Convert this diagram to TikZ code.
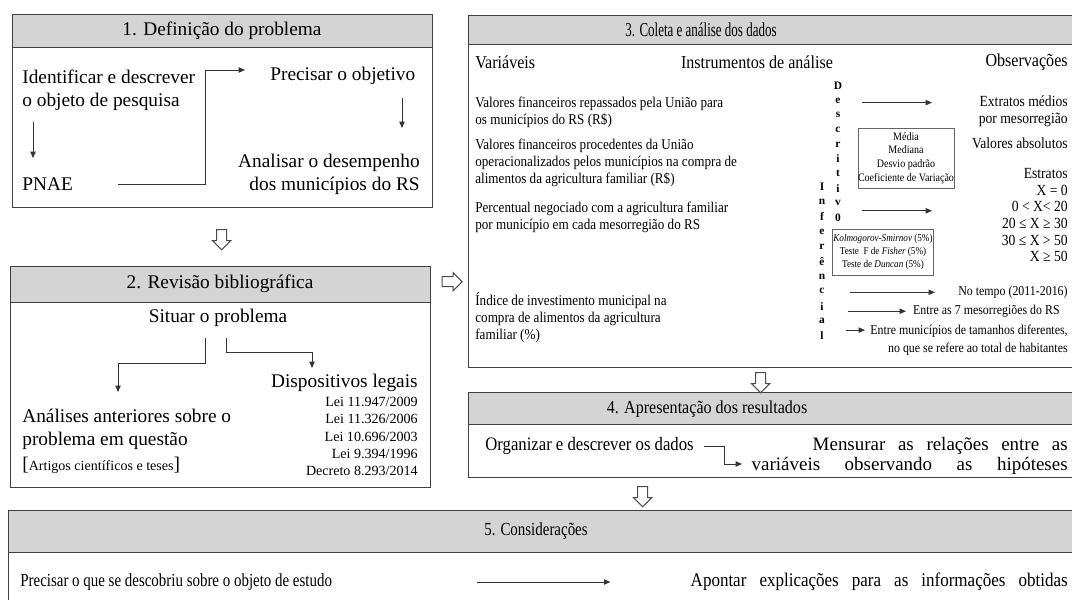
\documentclass[tikz,border=0pt]{standalone}
\usepackage{fontspec}
\setmainfont{Liberation Serif}
\newfontfamily\fontN[FakeStretch=0.88]{Liberation Serif}
\newfontfamily\fontC[FakeStretch=0.81]{Liberation Serif}
\newfontfamily\fontV[FakeStretch=0.66]{Liberation Serif}
\usetikzlibrary{arrows.meta,shapes.arrows,calc}

\tikzset{
  box/.style={draw=black!75, line width=0.8pt, anchor=north west, inner sep=0pt},
  hdr/.style={box, fill=black!17},
  big/.style={inner sep=0pt, font=\fontsize{11}{13}\selectfont},
  lei/.style={inner sep=0pt, font=\fontsize{8}{9.8}\selectfont, align=right},
  col/.style={inner sep=0pt, font=\fontN\fontsize{10.4}{12}\selectfont},
  var/.style={inner sep=0pt, font=\fontN\fontsize{8.5}{9.8}\selectfont, align=left, anchor=west},
  obs/.style={inner sep=0pt, font=\fontN\fontsize{8.8}{9.5}\selectfont, align=right, anchor=east},
  obsl/.style={obs, font=\fontN\fontsize{7.7}{10}\selectfont},
  stat/.style={draw=black!60, line width=0.5pt, inner sep=0pt, font=\fontN\fontsize{6.5}{7.8}\selectfont, align=center},
  vlet/.style={inner sep=0pt, font=\bfseries\fontsize{6.5}{7}\selectfont},
  arr/.style={draw=black!80, line width=0.5pt, -{Triangle[length=3.6pt,width=3pt]}},
  bigarr/.style={single arrow, draw=black!70, fill=white, line width=0.6pt, inner sep=0.09cm,
    minimum height=0.4cm, single arrow head extend=0.08cm}
}

\begin{document}
\begin{tikzpicture}[x=0.02cm, y=-0.02cm]
\useasboundingbox (0,0) rectangle (1072,599);
\clip (0,0) rectangle (1072,599);
\fill[white] (0,0) rectangle (1072,599);

% boxes
\node[box, minimum width=8.4cm, minimum height=3.2cm] (b1) at (12,47) {};
\node[hdr, minimum width=8.4cm, minimum height=0.66cm] (h1) at (12,14) {};
\node[box, minimum width=8.4cm, minimum height=3.7cm] (b2) at (10,302) {};
\node[hdr, minimum width=8.4cm, minimum height=0.72cm] (h2) at (10,266) {};
\node[box, minimum width=12.4cm, minimum height=6.46cm] (b3) at (468,44) {};
\node[hdr, minimum width=12.4cm, minimum height=0.58cm] (h3) at (468,15) {};
\node[box, minimum width=12.4cm, minimum height=1.06cm] (b4) at (468,424) {};
\node[hdr, minimum width=12.4cm, minimum height=0.64cm] (h4) at (468,392) {};
\node[box, minimum width=21.6cm, minimum height=1.2cm] (b5) at (8,552) {};
\node[hdr, minimum width=21.6cm, minimum height=0.84cm] (h5) at (8,510) {};

% 1
\node[big] (t1) at (222,31) {1. Definição do problema};
\node[big, align=left, anchor=west] (ident) at (22,90.5) {Identificar e descrever\\o objeto de pesquisa};
\node[big, anchor=west] (prec) at (270,76) {Precisar o objetivo};
\node[big, align=right, anchor=east] (anal) at (420,174) {Analisar o desempenho\\dos municípios do RS};
\node[big, anchor=west] (pnae) at (22,184) {PNAE};
\draw[arr] ($(ident.west)+(11,31)$) -- ($(pnae.west)+(11,-26)$);
\draw[arr] ($(pnae.west)+(96,0)$) -| ($(prec.west)+(-65,-6)$) -- ($(prec.west)+(-25,-6)$);
\draw[arr] ($(anal.east)+(-18,-76)$) -- ($(anal.east)+(-18,-46)$);

% 2
\node[big] (t2) at (220,284) {2. Revisão bibliográfica};
\node[big] (sit) at (218,318) {Situar o problema};
\node[big, anchor=east] (disp) at (418,383) {Dispositivos legais};
\node[lei, anchor=north east] (leis) at (418,397) {Lei 11.947/2009\\Lei 11.326/2006\\Lei 10.696/2003\\Lei 9.394/1996\\Decreto 8.293/2014};
\node[big, align=left, anchor=west] (anl) at (22,429) {Análises anteriores sobre o\\problema em questão};
\node[inner sep=0pt, font=\fontsize{8}{10}\selectfont, anchor=west] (art) at (22,465)
  {{\fontsize{11}{13}\selectfont[}Artigos científicos e teses{\fontsize{11}{13}\selectfont]}};
\draw[arr] ($(sit.center)+(-13,20)$) |- ($(anl.west)+(96,-66)$) -- ($(anl.west)+(96,-37)$);
\draw[arr] ($(sit.center)+(8,20)$) |- ($(disp.east)+(-106,-31)$) -- ($(disp.east)+(-106,-15)$);

% 3
\node[inner sep=0pt, font=\fontV\fontsize{11.2}{12}\selectfont] (t3) at (701,30) {3. Coleta e análise dos dados};
\node[col, anchor=west] (cvar) at (475,62) {Variáveis};
\node[col] (cins) at (757,62) {Instrumentos de análise};
\node[col, anchor=east] (cobs) at (1068,62) {Observações};

\node[var] (v1) at (475,112) {Valores financeiros repassados pela União para\\os municípios do RS (R\$)};
\node[var] (v2) at (475,163) {Valores financeiros procedentes da União\\operacionalizados pelos municípios na compra de\\alimentos da agricultura familiar (R\$)};
\node[var] (v3) at (475,217.5) {Percentual negociado com a agricultura familiar\\por município em cada mesorregião do RS};
\node[var] (v4) at (475,317.5) {Índice de investimento municipal na\\compra de alimentos da agricultura\\familiar (\%)};

\foreach \l [count=\i from 0] in {D,e,s,c,r,i,t,i,v,0}
  \node[vlet] (d\i) at (838,86+\i*14.6) {\l};
\foreach \l [count=\i from 0] in {I,n,f,e,r,ê,n,c,i,a,l}
  \node[vlet] (f\i) at (822,187+\i*14.9) {\l};

\node[stat, minimum width=1.84cm, minimum height=1.2cm] (desc) at (906,158) {Média\\Mediana\\Desvio padrão\\Coeficiente de Variação};
\node[stat, minimum width=2.02cm, minimum height=0.92cm, font=\fontN\fontsize{5.9}{7.4}\selectfont] (infer) at (883,252) {\textit{Kolmogorov-Smirnov} (5\%)\\Teste\ \ F de \textit{Fisher} (5\%)\\Teste de \textit{Duncan} (5\%)};

\node[obs] (o1) at (1068,111) {Extratos médios\\por mesorregião};
\node[obs] (o2) at (1068,143) {Valores absolutos};
\node[obs, anchor=north east] (o3) at (1068,168) {Estratos\\X = 0\\0 < X< 20\\20 ≤ X ≥ 30\\30 ≤ X > 50\\X ≥ 50};
\node[obsl] (o4) at (1068,292) {No tempo (2011-2016)};
\node[obsl] (o5) at (1060,311) {Entre as 7 mesorregiões do RS};
\node[obsl] (o6) at (1068,340) {Entre municípios de tamanhos diferentes,\\no que se refere ao total de habitantes};

\draw[arr] ($(d1)+(24,2)$) -- ++(70,0);
\draw[arr] ($(d8)+(24,8)$) -- ++(70,0);
\draw[arr] ($(f7)+(28,1)$) -- ++(85,0);
\draw[arr] ($(f8)+(26,5)$) -- ++(58,0);
\draw[arr] ($(f9)+(24,9)$) -- ++(19,0);

% 4
\node[inner sep=0pt, font=\fontN\fontsize{10.4}{12}\selectfont] (t4) at (707,409) {4. Apresentação dos resultados};
\node[inner sep=0pt, font=\fontN\fontsize{10.8}{11.5}\selectfont, anchor=west] (org) at (485,446) {Organizar e descrever os dados};
\node[inner sep=0pt, font=\fontsize{10.8}{11.5}\selectfont, align=right, anchor=east] (mens) at (1068,456)
  {\makebox[5.1cm][s]{Mensurar as relações entre as}\\\makebox[6.32cm][s]{variáveis observando as hipóteses}};
\draw[arr] ($(org.east)+(10,0)$) -| ++(20,18) -- ++(18,0);

% 5
\node[inner sep=0pt, font=\fontC\fontsize{10.5}{12}\selectfont] (t5) at (536,531) {5. Considerações};
\node[inner sep=0pt, font=\fontC\fontsize{10.5}{12}\selectfont, anchor=west] (pdes) at (20,582) {Precisar o que se descobriu sobre o objeto de estudo};
\node[inner sep=0pt, font=\fontN\fontsize{11}{12}\selectfont, anchor=east] (apon) at (1068,582)
  {\makebox[7.54cm][s]{Apontar explicações para as informações obtidas}};
\draw[arr] ($(pdes.east)+(145,0)$) -- ++(133,0);

% big arrows between the steps
\node[bigarr, rotate=-90] (a12) at ($(b1.south)!0.5!(h2.north)$) {};
\node[bigarr] (a23) at ($(b2.east)!0.5!(b3.west)+(0,-19)$) {};
\node[bigarr, rotate=-90] (a34) at ($(b3.south)!0.5!(h4.north)+(-18,0)$) {};
\node[bigarr, rotate=-90] (a45) at ($(b4.south)!0.5!(h5.north)+(-21,0)$) {};
\end{tikzpicture}
\end{document}
